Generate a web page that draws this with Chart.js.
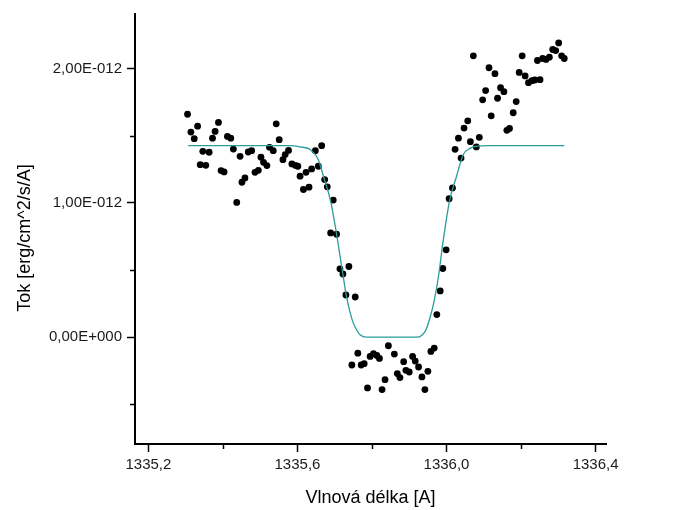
<!DOCTYPE html>
<html>
<head>
<meta charset="utf-8">
<script src="https://cdn.jsdelivr.net/npm/chart.js@4/dist/chart.umd.min.js"></script>
<style>
  html, body { margin: 0; padding: 0; background: #fff; }
  #wrap { width: 686px; height: 510px; }
</style>
</head>
<body>
<div id="wrap"><canvas id="c" width="686" height="510"></canvas></div>
<script>
// ---- data (wavelength in Å, flux in erg/cm^2/s/A) ----
const wavelength = [1335.305,1335.332,1335.314,1335.323,1335.388,1335.379,1335.372,1335.412,1335.421,1335.346,
  1335.363,1335.339,1335.354,1335.428,1335.446,1335.468,1335.477,1335.395,1335.403,1335.451,
  1335.459,1335.437,1335.486,1335.495,1335.502,1335.509,1335.518,1335.543,1335.551,1335.525,
  1335.535,1335.561,1335.567,1335.576,1335.585,1335.594,1335.601,1335.607,1335.623,1335.638,
  1335.656,1335.616,1335.631,1335.648,1335.665,1335.673,1335.680,1335.696,1335.689,1335.705,
  1335.714,1335.722,1335.738,1335.730,1335.755,1335.762,1335.746,1335.771,1335.779,1335.795,
  1335.804,1335.813,1335.820,1335.844,1335.860,1335.788,1335.827,1335.835,1335.868,1335.875,
  1335.885,1335.891,1335.900,1335.909,1335.916,1335.925,1335.934,1335.950,1335.942,1335.958,
  1335.967,1335.974,1335.983,1335.990,1335.999,1336.007,1336.016,1336.023,1336.039,1336.032,
  1336.047,1336.057,1336.064,1336.080,1336.088,1336.072,1336.097,1336.105,1336.120,1336.114,
  1336.130,1336.137,1336.145,1336.154,1336.162,1336.169,1336.179,1336.187,1336.195,1336.203,
  1336.211,1336.220,1336.229,1336.237,1336.251,1336.244,1336.258,1336.267,1336.276,1336.285,
  1336.293,1336.301,1336.309,1336.316];
const flux = [1.659e-12,1.570e-12,1.526e-12,1.477e-12,1.598e-12,1.531e-12,1.481e-12,1.494e-12,1.481e-12,1.383e-12,
  1.376e-12,1.284e-12,1.279e-12,1.400e-12,1.346e-12,1.378e-12,1.388e-12,1.240e-12,1.230e-12,1.153e-12,
  1.185e-12,1.003e-12,1.227e-12,1.242e-12,1.339e-12,1.301e-12,1.277e-12,1.588e-12,1.470e-12,1.413e-12,
  1.388e-12,1.321e-12,1.359e-12,1.390e-12,1.289e-12,1.279e-12,1.272e-12,1.198e-12,1.227e-12,1.252e-12,
  1.272e-12,1.099e-12,1.116e-12,1.388e-12,1.425e-12,1.173e-12,1.119e-12,1.020e-12,0.776e-12,0.766e-12,
  0.509e-12,0.470e-12,0.526e-12,0.314e-12,0.299e-12,-0.119e-12,-0.207e-12,-0.207e-12,-0.197e-12,-0.143e-12,
  -0.123e-12,-0.136e-12,-0.158e-12,-0.064e-12,-0.126e-12,-0.378e-12,-0.390e-12,-0.316e-12,-0.271e-12,-0.301e-12,
  -0.182e-12,-0.247e-12,-0.259e-12,-0.143e-12,-0.178e-12,-0.222e-12,-0.296e-12,-0.254e-12,-0.390e-12,-0.106e-12,
  -0.081e-12,0.168e-12,0.344e-12,0.511e-12,0.650e-12,1.030e-12,1.111e-12,1.398e-12,1.333e-12,1.481e-12,
  1.556e-12,1.610e-12,1.455e-12,1.416e-12,1.487e-12,2.094e-12,1.766e-12,1.835e-12,1.647e-12,2.005e-12,
  1.961e-12,1.778e-12,1.857e-12,1.827e-12,1.539e-12,1.553e-12,1.670e-12,1.753e-12,1.970e-12,2.094e-12,
  1.944e-12,1.894e-12,1.909e-12,1.914e-12,1.916e-12,2.059e-12,2.074e-12,2.067e-12,2.084e-12,2.141e-12,
  2.133e-12,2.190e-12,2.094e-12,2.074e-12];

// fitted profile
const fitWavelength = [1335.307,1335.580,1335.607,1335.634,1335.656,1335.671,1335.689,1335.705,1335.719,1335.732,
  1335.746,1335.755,1335.768,1335.786,1335.920,1335.934,1335.945,1335.956,1335.967,1335.978,
  1335.991,1336.008,1336.027,1336.045,1336.063,1336.077,1336.117,1336.316];
const fitFlux = [1.425e-12,1.425e-12,1.416e-12,1.396e-12,1.321e-12,1.185e-12,1.013e-12,0.766e-12,0.519e-12,0.296e-12,
  0.136e-12,0.074e-12,0.018e-12,0,0,0.015e-12,0.055e-12,0.148e-12,0.272e-12,0.444e-12,
  0.716e-12,1.013e-12,1.198e-12,1.359e-12,1.405e-12,1.420e-12,1.425e-12,1.425e-12];

// ticks
const xMajorTicks = [1335.2, 1335.6, 1336.0, 1336.4];
const xMajorLabels = ['1335,2', '1335,6', '1336,0', '1336,4'];
const xMinorTicks = [1335.4, 1335.8, 1336.2];
const yMajorTicks = [0, 1e-12, 2e-12];
const yMajorLabels = ['0,00E+000', '1,00E-012', '2,00E-012'];
const yMinorTicks = [-0.5e-12, 0.5e-12, 1.5e-12];

const xTitle = 'Vlnová délka [A]';
const yTitle = 'Tok [erg/cm^2/s/A]';

// ---- build ----
const FONT = '"Liberation Sans", Arial, sans-serif';
const points = wavelength.map((x, i) => ({x: x, y: flux[i]}));
const fitPoints = fitWavelength.map((x, i) => ({x: x, y: fitFlux[i]}));

function near(a, b, tol) { return Math.abs(a - b) < tol; }
function majorIndex(list, v, tol) { return list.findIndex(t => near(t, v, tol)); }

const minorTickPlugin = {
  id: 'minorTicks',
  afterDraw(chart) {
    const ctx = chart.ctx;
    const xs = chart.scales.x, ys = chart.scales.y;
    ctx.save();
    ctx.strokeStyle = '#000';
    ctx.lineWidth = 1.5;
    ctx.beginPath();
    xMinorTicks.forEach(v => {
      const px = Math.round(xs.getPixelForValue(v)) + 0.5;
      ctx.moveTo(px, xs.top); ctx.lineTo(px, xs.top + 5);
    });
    yMinorTicks.forEach(v => {
      const py = Math.round(ys.getPixelForValue(v)) + 0.5;
      ctx.moveTo(ys.right, py); ctx.lineTo(ys.right - 5, py);
    });
    ctx.stroke();
    // y title
    ctx.fillStyle = '#000';
    ctx.font = '18px ' + FONT;
    ctx.textAlign = 'center';
    ctx.textBaseline = 'middle';
    ctx.translate(25, 238);
    ctx.rotate(-Math.PI / 2);
    ctx.fillText(yTitle, 0, 0);
    ctx.restore();
  }
};

new Chart(document.getElementById('c'), {
  type: 'scatter',
  data: {
    datasets: [
      {
        label: 'fit',
        data: fitPoints,
        showLine: true,
        borderColor: '#2a9c9c',
        borderWidth: 1.3,
        pointRadius: 0,
        cubicInterpolationMode: 'monotone',
        order: 0
      },
      {
        label: 'data',
        data: points,
        showLine: false,
        backgroundColor: '#000',
        borderWidth: 0,
        pointRadius: 3.4,
        order: 1
      }
    ]
  },
  options: {
    responsive: false,
    animation: false,
    devicePixelRatio: 1,
    layout: { padding: { left: 0, top: 12, right: 80, bottom: 0 } },
    plugins: { legend: { display: false }, tooltip: { enabled: false } },
    scales: {
      x: {
        type: 'linear',
        min: 1335.164,
        max: 1336.428,
        afterBuildTicks: s => { s.ticks = xMajorTicks.map(v => ({value: v})); },
        afterFit: s => { s.height = 66; },
        ticks: {
          autoSkip: false,
          maxRotation: 0,
          padding: 4,
          color: '#1a1a1a',
          font: { family: FONT, size: 15 },
          callback: v => { const i = majorIndex(xMajorTicks, v, 1e-6); return i >= 0 ? xMajorLabels[i] : ''; }
        },
        grid: { display: true, drawOnChartArea: false, drawTicks: true, tickLength: 8, tickColor: '#000', tickWidth: 1.5 },
        border: { display: true, color: '#000', width: 2 },
        title: { display: true, text: xTitle, color: '#000', font: { family: FONT, size: 18 }, padding: { top: 0, bottom: 1 } }
      },
      y: {
        type: 'linear',
        min: -0.795e-12,
        max: 2.405e-12,
        afterBuildTicks: s => { s.ticks = yMajorTicks.map(v => ({value: v})); },
        afterFit: s => { s.width = 135; },
        ticks: {
          autoSkip: false,
          padding: 5,
          color: '#1a1a1a',
          font: { family: FONT, size: 15 },
          callback: v => { const i = majorIndex(yMajorTicks, v, 1e-16); return i >= 0 ? yMajorLabels[i] : ''; }
        },
        grid: { display: true, drawOnChartArea: false, drawTicks: true, tickLength: 8, tickColor: '#000', tickWidth: 1.5 },
        border: { display: true, color: '#000', width: 2 },
        title: { display: false }
      }
    }
  },
  plugins: [minorTickPlugin]
});
</script>
</body>
</html>
